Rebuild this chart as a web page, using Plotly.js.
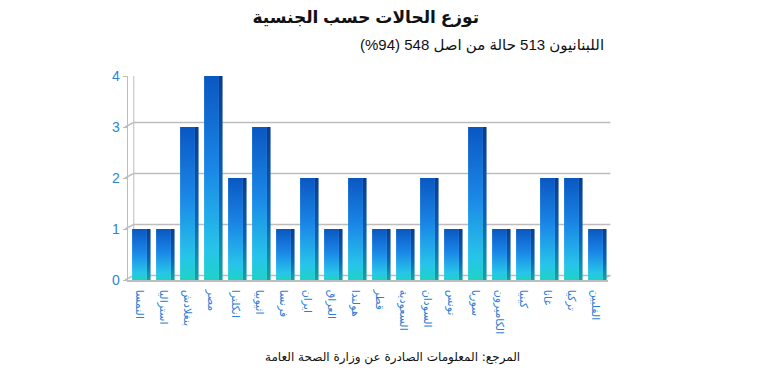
<!DOCTYPE html>
<html><head><meta charset="utf-8">
<script src="https://cdn.plot.ly/plotly-3.0.1.min.js"></script>
<style>html,body{margin:0;padding:0;background:#fff}#chart{width:762px;height:380px}</style>
</head><body><div id="chart"></div>
<script>
var countries = ["النمسا","استراليا","بنغلادش","مصر","انكلترا","اثيوبيا","فرنسا","ايران","العراق","هولندا","قطر","السعودية","السودان","تونس","سوريا","الكاميرون","كينيا","غانا","تركيا","الفلبين"];
var cases = [1,1,3,4,2,3,1,2,1,2,1,1,2,1,3,1,1,2,2,1];
var yTicks = [0,1,2,3,4];
var titleText = "توزع الحالات حسب الجنسية";
var subtitleText = "اللبنانيون 513 حالة من اصل 548 (94%)";
var sourceText = "المرجع: المعلومات الصادرة عن وزارة الصحة العامة";

var FONT = "Liberation Sans, Arial, DejaVu Sans, sans-serif";
var front = {type:"bar", x:countries, y:cases, width:0.62, offset:-0.33,
  marker:{color:"#1a7fe0", line:{width:0}}, hoverinfo:"skip", name:"front"};
var side = {type:"bar", x:countries, y:cases, width:0.15, offset:0.29,
  marker:{color:"#0b4fa8", line:{width:0}}, hoverinfo:"skip", name:"side"};

var shapes = [];
yTicks.forEach(function(v){
  shapes.push({type:"line", xref:"paper", yref:"y", x0:0.012, x1:1.005, y0:v+0.09, y1:v+0.09, line:{color:"#bdbdbd", width:1.5}, layer:"below"});
  shapes.push({type:"line", xref:"paper", yref:"y", x0:-0.006, x1:0.012, y0:v, y1:v+0.09, line:{color:"#bdbdbd", width:1.5}, layer:"below"});
});
shapes.push({type:"line", xref:"paper", yref:"y", x0:0.012, x1:0.012, y0:0.09, y1:4.09, line:{color:"#bdbdbd", width:1}, layer:"below"});
shapes.push({type:"line", xref:"paper", yref:"y", x0:1.005, x1:0.985, y0:0.09, y1:0, line:{color:"#bdbdbd", width:1.5}, layer:"below"});

var layout = {
  width:762, height:380, showlegend:false, barmode:"overlay",
  paper_bgcolor:"#fff", plot_bgcolor:"#fff",
  margin:{l:128, r:154, t:76, b:100},
  font:{family:FONT},
  title:{text:"<b>"+titleText+"</b>", font:{size:17, color:"#111", family:"Liberation Sans, DejaVu Sans, sans-serif"},
    x:0.48, xanchor:"center", y:0.955, yanchor:"middle", xref:"container", yref:"container"},
  xaxis:{type:"category", range:[-0.5,19.5], tickangle:90, ticks:"", showgrid:false, ticklabelstandoff:6,
    showline:true, linecolor:"#bdbdbd", linewidth:1.5, tickfont:{size:11, color:"#2b7fd4", family:"DejaVu Sans, sans-serif"},
    fixedrange:true},
  yaxis:{range:[0,4], tickvals:yTicks, showgrid:false, zeroline:false, showline:true, linecolor:"#bdbdbd", linewidth:1.5,
    ticks:"outside", ticklen:4, tickcolor:"#bdbdbd", tickfont:{size:14, color:"#2b86d6"}, fixedrange:true},
  shapes:shapes,
  annotations:[
    {text:subtitleText, xref:"paper", yref:"paper", x:0.995, y:1.152, xanchor:"right", yanchor:"middle", showarrow:false,
     font:{size:15, color:"#111", family:"Liberation Sans, DejaVu Sans, sans-serif"}},
    {text:sourceText, xref:"paper", yref:"paper", x:0.55, y:-0.382, xanchor:"center", yanchor:"middle", showarrow:false,
     font:{size:12, color:"#111", family:"DejaVu Sans, sans-serif"}}
  ]
};
Plotly.newPlot("chart", [front, side], layout, {displayModeBar:false, staticPlot:true}).then(function(gd){
  var svg = gd.querySelector("svg.main-svg");
  var ns = "http://www.w3.org/2000/svg";
  var defs = svg.querySelector("defs") || svg.insertBefore(document.createElementNS(ns,"defs"), svg.firstChild);
  function grad(id, stops){
    var g = document.createElementNS(ns,"linearGradient");
    g.setAttribute("id",id); g.setAttribute("x1","0"); g.setAttribute("y1","0"); g.setAttribute("x2","0"); g.setAttribute("y2","1");
    stops.forEach(function(s){var st=document.createElementNS(ns,"stop"); st.setAttribute("offset",s[0]); st.setAttribute("stop-color",s[1]); g.appendChild(st);});
    defs.appendChild(g);
  }
  grad("gFront", [["0","#0a57c2"],["0.45","#1a86e6"],["0.85","#27c4ea"],["1","#1fd2c8"]]);
  grad("gSide", [["0","#0a3c8c"],["0.6","#0b62b8"],["1","#12a3a8"]]);
  var traces = gd.querySelectorAll(".barlayer .trace");
  if (traces[0]) traces[0].querySelectorAll("path").forEach(function(p){p.style.fill="url(#gFront)";});
  if (traces[1]) traces[1].querySelectorAll("path").forEach(function(p){p.style.fill="url(#gSide)";});
});
</script></body></html>
